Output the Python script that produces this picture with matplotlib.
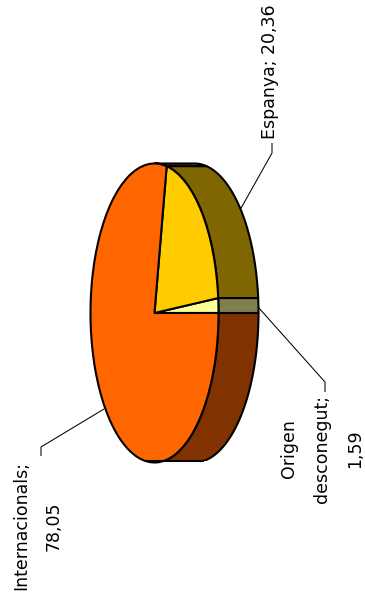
import numpy as np
import matplotlib
matplotlib.use("Agg")
import matplotlib.pyplot as plt
from matplotlib.patches import Polygon, Rectangle

W, H = 365, 606
categories = ["Origen desconegut", "Espanya", "Internacionals"]
values = [1.59, 20.36, 78.05]
label_lines = ["Origen\ndesconegut;\n1,59", "Espanya; 20,36", "Internacionals;\n78,05"]
top_colors = ["#FFFF99", "#FFCC00", "#FF6600"]
side_colors = ["#80804D", "#806600", "#803300"]

CX, CY, RX, RY, DEPTH = 154.5, 313.0, 64.0, 149.5, 40.0
LW = 1.5
FLOOR_Y = 461.0

fig = plt.figure(figsize=(W / 100, H / 100), dpi=100, facecolor="white")
ax = fig.add_axes([0, 0, 1, 1])

wedges, _ = ax.pie(values, colors=top_colors, startangle=0, counterclock=True, radius=1.0,
                   wedgeprops=dict(edgecolor="black", linewidth=LW, joinstyle="round", zorder=5))
ax.set_aspect("auto")
ax.set_xlim(-CX / RX, (W - CX) / RX)
ax.set_ylim(-(H - CY) / RY, CY / RY)
ax.axis("off")
px = lambda x, y: ((x - CX) / RX, (CY - y) / RY)
off = DEPTH / RX

# The reference outline is cut flat at its lowest point
floor = (CY - FLOOR_Y) / RY
clip = Rectangle((-10, floor), 20, 20, transform=ax.transData)
half = np.sqrt(1 - floor ** 2)


def wall(a0, a1, color, z):
    t = np.radians(np.linspace(a0, a1, 80))
    x, y = np.cos(t), np.sin(t)
    pts = np.r_[np.c_[x, y], np.c_[x[::-1] + off, y[::-1]]]
    p = Polygon(pts, closed=True, facecolor=color, edgecolor="black",
                linewidth=LW, joinstyle="round", zorder=z)
    ax.add_patch(p)
    p.set_clip_path(clip)


edges = np.r_[0, np.cumsum(values)] / np.sum(values) * 360
wall(edges[2], 90, side_colors[2], 1)
wall(270, edges[3], side_colors[2], 2)
wall(edges[1], edges[2], side_colors[1], 3)
wall(edges[0], edges[1], side_colors[0], 4)
for w in wedges:
    w.set_clip_path(clip)
ax.plot([-half, half + off], [floor, floor], color="black", lw=LW, zorder=7,
        solid_capstyle="butt")

# Leader lines
leaders = [
    [(258, 307), (325, 382), (325, 392)],
    [(240, 210), (272, 153), (272, 143)],
    [(104, 409), (41, 447), (41, 456)],
]
for pts in leaders:
    xs, ys = zip(*[px(*p) for p in pts])
    ax.plot(xs, ys, color="black", lw=0.75, zorder=0, solid_capstyle="butt")

# Labels
positions = [(322.5, 449), (270, 71.5), (37.5, 526)]
for text, (x, y) in zip(label_lines, positions):
    ax.text(*px(x, y), text, rotation=90, ha="center", va="center", ma="center",
            rotation_mode="anchor", fontsize=12.5, family="DejaVu Sans",
            linespacing=2.08, color="black", zorder=6)

fig.savefig("out.png", dpi=100, facecolor="white")
